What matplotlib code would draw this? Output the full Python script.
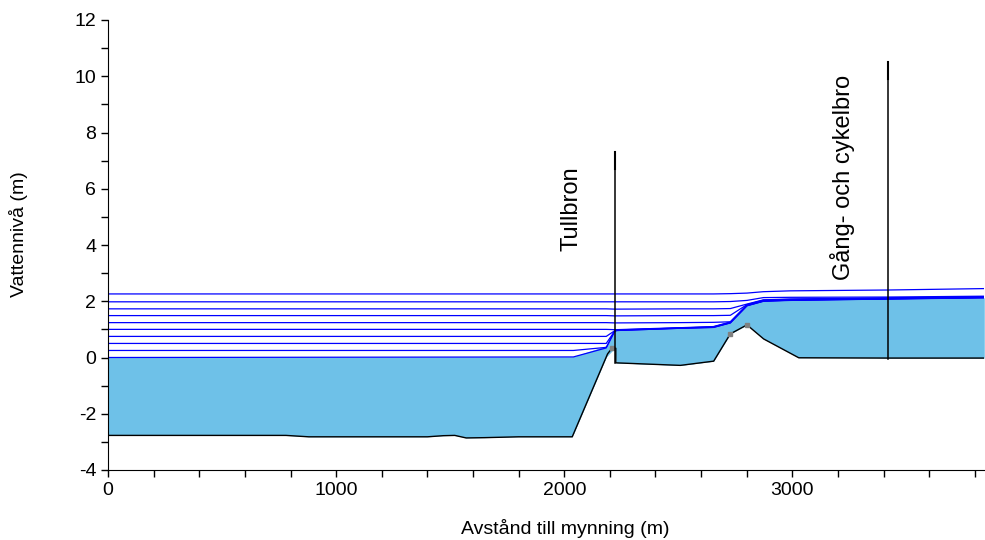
import numpy as np
import matplotlib.pyplot as plt
from matplotlib.ticker import MultipleLocator

plt.rcParams['font.family'] = ['Liberation Sans', 'DejaVu Sans']
plt.rcParams['axes.unicode_minus'] = False

# bottom profile (m from mouth, level in m)
bed_x = [0, 780, 880, 1400, 1470, 1520, 1570, 1650, 1800, 2035, 2190, 2209, 2226, 2226,
         2509, 2655, 2728, 2801, 2874, 3028, 3421, 3840]
bed_y = [-2.77, -2.77, -2.82, -2.82, -2.78, -2.77, -2.86, -2.85, -2.82, -2.82, 0.13, 0.33, 0.33, -0.19,
         -0.28, -0.13, 0.84, 1.16, 0.66, -0.01, -0.02, -0.02]

# stations for the water surface profiles
stations = [0, 2040, 2184, 2221, 2230, 2509, 2654, 2728, 2801, 2873, 2991, 3421, 3840]
levels = [
    [0.00, 0.02, 0.34, 0.93, 0.96, 1.04, 1.07, 1.23, 1.84, 2.00, 2.03, 2.08, 2.12],
    [0.25, 0.25, 0.36, 0.93, 0.96, 1.04, 1.07, 1.23, 1.84, 2.00, 2.04, 2.08, 2.13],
    [0.50, 0.50, 0.50, 0.94, 0.97, 1.05, 1.08, 1.24, 1.85, 2.01, 2.04, 2.09, 2.13],
    [0.75, 0.75, 0.75, 0.95, 0.98, 1.05, 1.09, 1.25, 1.86, 2.02, 2.05, 2.09, 2.14],
    [1.00, 1.00, 1.00, 0.99, 0.99, 1.06, 1.10, 1.26, 1.86, 2.02, 2.05, 2.10, 2.14],
    [1.24, 1.24, 1.24, 1.23, 1.23, 1.24, 1.25, 1.27, 1.87, 2.03, 2.06, 2.10, 2.15],
    [1.49, 1.49, 1.49, 1.48, 1.48, 1.49, 1.49, 1.50, 1.88, 2.04, 2.07, 2.11, 2.15],
    [1.73, 1.73, 1.73, 1.72, 1.72, 1.73, 1.73, 1.74, 1.90, 2.05, 2.08, 2.12, 2.16],
    [1.98, 1.98, 1.98, 1.98, 1.98, 1.98, 1.98, 1.99, 2.03, 2.13, 2.14, 2.15, 2.18],
    [2.26, 2.26, 2.26, 2.26, 2.26, 2.26, 2.26, 2.27, 2.29, 2.34, 2.37, 2.40, 2.45],
]

# bridges: position, top level, bottom level, name, label base level
bridge_x = [2224, 3421]
bridge_top = [7.3, 10.5]
bridge_bot = [-0.2, -0.05]
bridge_names = ['Tullbron', 'Gång- och cykelbro']
label_base = [3.8, 2.75]

# grey section points
sect_x = [2209, 2728, 2801]
sect_y = [0.33, 0.84, 1.16]

fig = plt.figure(figsize=(9.85, 5.4), dpi=100)
ax = fig.add_axes([108 / 985, 70 / 540, 876 / 985, 450 / 540])

# water between bottom and lowest surface
fill_top = np.interp(bed_x, stations, levels[0])
ax.fill_between(bed_x, bed_y, fill_top, color='#6EC1E8', lw=0, zorder=1)
ax.fill_between(stations, levels[0], np.interp(stations, bed_x, bed_y), color='#6EC1E8', lw=0, zorder=1)
ax.plot(bed_x, bed_y, color='black', lw=1.0, zorder=3)
ax.plot(sect_x, sect_y, 's', color='#808080', ms=3, zorder=4)

for lv in levels:
    ax.plot(stations, lv, color='#0000FF', lw=0.9, zorder=2)

for bx, bt, bb, name, lb in zip(bridge_x, bridge_top, bridge_bot, bridge_names, label_base):
    ax.plot([bx, bx], [bb, bt], color='black', lw=1.1, zorder=5)
    ax.plot([bx, bx], [bt - 0.6, bt], color='black', lw=1.5, zorder=5)
    ax.text(bx - 145, lb, name, rotation=90, ha='right', va='bottom', fontsize=17)

ax.set_xlim(0, 3840)
ax.set_ylim(-4, 12)
ax.xaxis.set_major_locator(MultipleLocator(1000))
ax.xaxis.set_minor_locator(MultipleLocator(200))
ax.yaxis.set_major_locator(MultipleLocator(2))
ax.yaxis.set_minor_locator(MultipleLocator(1))
ax.tick_params(which='both', length=5, width=1, labelsize=14, direction='out')
ax.spines['top'].set_visible(False)
ax.spines['right'].set_visible(False)

ax.set_xlabel('Avstånd till mynning (m)', fontsize=14)
ax.set_ylabel('Vattennivå (m)', fontsize=14)
ax.xaxis.set_label_coords(0.522, -0.109)
ax.yaxis.set_label_coords(-0.091, 0.524)

plt.savefig('out.png', dpi=100)
